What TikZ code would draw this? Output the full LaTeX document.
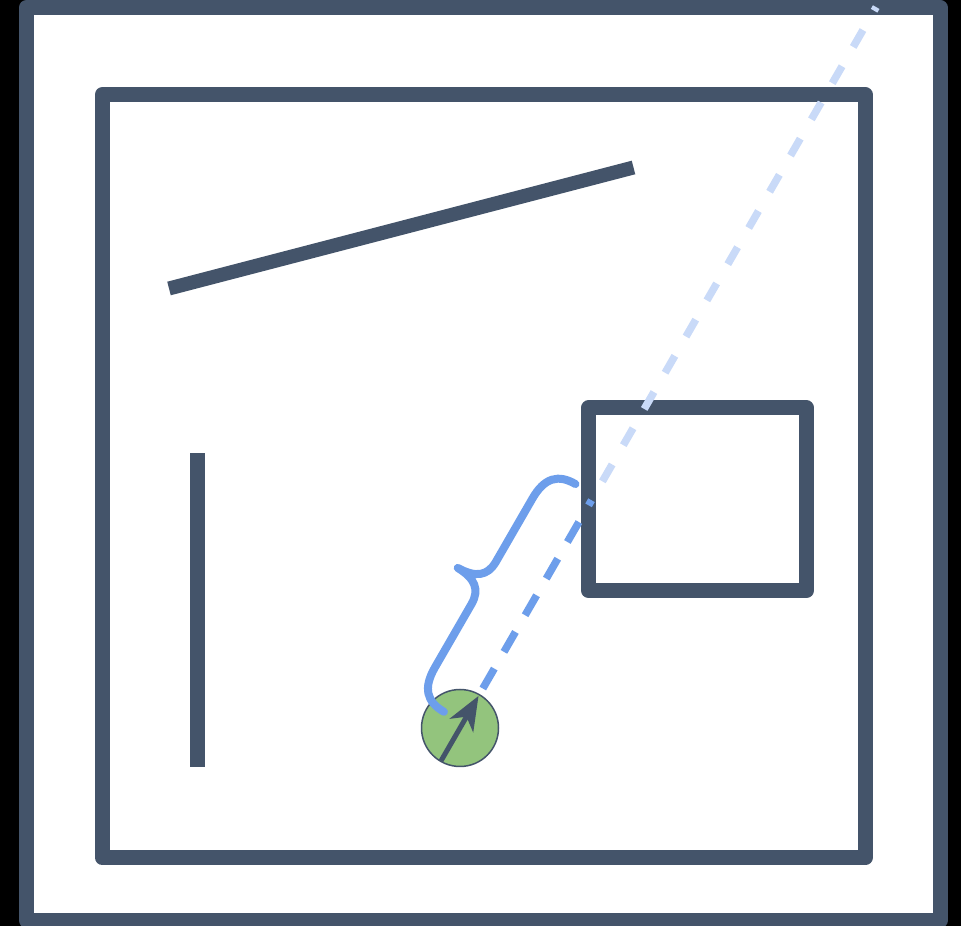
\documentclass[tikz,border=0pt]{standalone}
\usepackage{xcolor}
\usepackage{tikz}
\usetikzlibrary{arrows.meta,calc}
\definecolor{slate}{HTML}{44546A}
\definecolor{raynear}{HTML}{6D9EEB}
\definecolor{rayfar}{HTML}{C9DAF8}
\definecolor{robotgreen}{HTML}{93C47D}

\begin{document}
\begin{tikzpicture}[x=1pt,y=1pt,line width=15pt,
    wall/.style={draw=slate,line width=15pt},
    frame/.style={wall,line join=round},
    near ray/.style={draw=raynear,line width=7.5pt,dash pattern=on 23pt off 19.3pt,dash phase=39pt},
    far ray/.style={draw=rayfar,line width=7.5pt,dash pattern=on 19.5pt off 22.3pt,dash phase=20pt},
    gap brace/.style={draw=raynear,line width=8pt,line cap=round,line join=round}]
    \fill[black] (0,0) rectangle (961,926);
    \useasboundingbox (0,0) rectangle (961,926);
    \fill[white] (26.5,5.5) rectangle (940,918.5);
    \draw[frame] (26.5,5.5) rectangle (940,918.5);
    \draw[frame] (102.5,68) rectangle (865,831.5);
    \draw[frame] (588.5,335.5) rectangle (806.5,518);
    \draw[wall,line width=14pt] (169,637.5) -- (633.5,758.5);
    \draw[wall] (197,159) -- (197,473);
    \coordinate (eye) at (460,198);
    \coordinate (hit) at ($(eye)+(60:263)$);
    \coordinate (ray end) at ($(eye)+(60:832.4)$);
    \draw[near ray] (eye) -- (hit);
    \draw[far ray] (hit) -- (ray end);
    \node[circle,draw=slate,fill=robotgreen,line width=1.5pt,minimum size=77pt,inner sep=0pt] (robot) at (eye) {};
    \draw[slate,line width=5pt,-{Stealth[length=34pt,width=27pt,inset=10pt]}] ($(robot.center)+(240:38)$) -- ($(robot.center)+(60:37)$);
    \begin{scope}[shift={(robot.center)},rotate=60]
        \draw[gap brace] (6,22) .. controls (6,42) and (16,52) .. (40,52) -- (113,52) .. controls (130,52) and (137,62) .. (137.5,82) .. controls (138,62) and (145,52) .. (162,52) -- (235,52) .. controls (259,52) and (269,42) .. (269,22);
    \end{scope}
\end{tikzpicture}
\end{document}
